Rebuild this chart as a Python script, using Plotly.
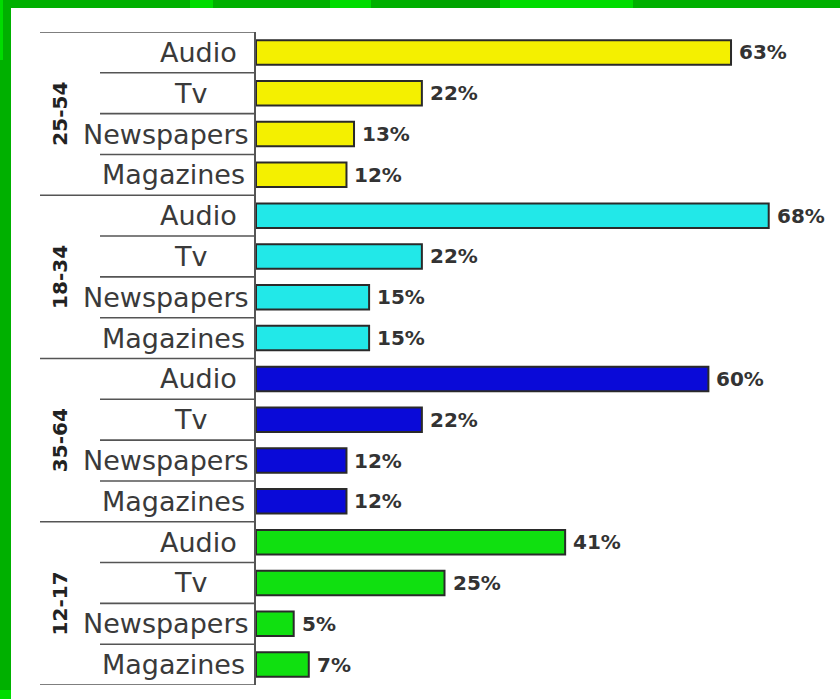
import plotly.graph_objects as go

# ---- data ----
groups = ["25-54", "18-34", "35-64", "12-17"]
categories = ["Audio", "Tv", "Newspapers", "Magazines"]
values_25_54 = [63, 22, 13, 12]
values_18_34 = [68, 22, 15, 15]
values_35_64 = [60, 22, 12, 12]
values_12_17 = [41, 25, 5, 7]
group_values = [values_25_54, values_18_34, values_35_64, values_12_17]

# ---- style ----
group_colors = ["#f4f000", "#22e8e8", "#0a0ad8", "#10e010"]
W, H = 840, 699
L, R, T, B = 256, 0, 32, 14
PW, PH = W - L - R, H - T - B
X_MAX = PW / 7.54  # percent units visible across the plot width

def px(xpix):
    return (xpix - L) / PW

def py(ypix):
    return (H - B - ypix) / PH

fig = go.Figure()
n_cat = len(categories)
annotations = []
for gi, (g, vals) in enumerate(zip(groups, group_values)):
    ys = [gi * n_cat + ci for ci in range(n_cat)]
    fig.add_trace(go.Bar(
        x=vals,
        y=ys,
        orientation="h",
        width=0.6,
        marker=dict(color=group_colors[gi], line=dict(color="#2a2a2a", width=2)),
        showlegend=False,
        name=g,
        hovertemplate="%{x}%<extra>" + g + "</extra>",
    ))
    for v, yv in zip(vals, ys):
        annotations.append(dict(text=f"{v}%", xref="x", yref="y", x=v, y=yv,
                                xanchor="left", yanchor="middle", xshift=6, showarrow=False,
                                font=dict(family="DejaVu Sans", size=20, color="#333333",
                                          weight="bold")))

shapes = []
label_centers = {"Audio": 198, "Tv": 190, "Newspapers": 166, "Magazines": 173}
n_rows = len(groups) * n_cat
for gi, g in enumerate(groups):
    base = gi * n_cat
    shapes.append(dict(type="line", xref="paper", yref="y", x0=px(40), x1=0,
                       y0=base - 0.5, y1=base - 0.5, line=dict(color="#555555", width=1.6)))
    for ci in range(1, n_cat):
        shapes.append(dict(type="line", xref="paper", yref="y", x0=px(100), x1=0,
                           y0=base + ci - 0.5, y1=base + ci - 0.5,
                           line=dict(color="#555555", width=1.6)))
    for ci, c in enumerate(categories):
        annotations.append(dict(text=c, xref="paper", yref="y", x=px(label_centers[c]),
                                y=base + ci, xanchor="center", yanchor="middle", showarrow=False,
                                font=dict(family="DejaVu Sans", size=27, color="#3a3a3a")))
    annotations.append(dict(text=f"<b>{g}</b>", xref="paper", yref="y", x=px(60),
                            y=base + (n_cat - 1) / 2, xanchor="center", yanchor="middle",
                            showarrow=False, textangle=-90,
                            font=dict(family="DejaVu Sans", size=20, color="#222222")))
shapes.append(dict(type="line", xref="paper", yref="y", x0=px(40), x1=0,
                   y0=n_rows - 0.5, y1=n_rows - 0.5, line=dict(color="#555555", width=1.6)))

# green slide frame
dark, light, darker = "#00b000", "#00dc00", "#00a400"
top_segments = [(0, 190, dark), (190, 213, light), (213, 330, dark), (330, 371, light),
                (371, 420, dark), (420, 500, darker), (500, 633, light), (633, 840, dark)]
for x0, x1, col in top_segments:
    shapes.append(dict(type="rect", xref="paper", yref="paper", x0=px(x0), x1=px(x1),
                       y0=py(8), y1=py(0), fillcolor=col, line=dict(width=0), layer="below"))
shapes.append(dict(type="rect", xref="paper", yref="paper", x0=px(0), x1=px(11),
                   y0=py(690), y1=py(0), fillcolor=dark, line=dict(width=0), layer="below"))
shapes.append(dict(type="rect", xref="paper", yref="paper", x0=px(0), x1=px(11),
                   y0=py(699), y1=py(690), fillcolor=light, line=dict(width=0), layer="below"))
shapes.append(dict(type="rect", xref="paper", yref="paper", x0=px(0), x1=px(3),
                   y0=py(60), y1=py(0), fillcolor=light, line=dict(width=0), layer="below"))

fig.update_layout(
    width=W, height=H,
    margin=dict(l=L, r=R, t=T, b=B, pad=0),
    paper_bgcolor="white", plot_bgcolor="white",
    barmode="overlay",
    shapes=shapes, annotations=annotations,
    xaxis=dict(range=[0, X_MAX], visible=False, fixedrange=True),
    yaxis=dict(range=[n_rows - 0.5, -0.5], showticklabels=False, showgrid=False,
               zeroline=False, showline=True, linecolor="#555555", linewidth=1.6,
               ticks="", fixedrange=True),
)

fig.write_html("out.html", config={"displayModeBar": False},
               post_script="document.body.style.margin='0';document.body.style.overflow='hidden';")
